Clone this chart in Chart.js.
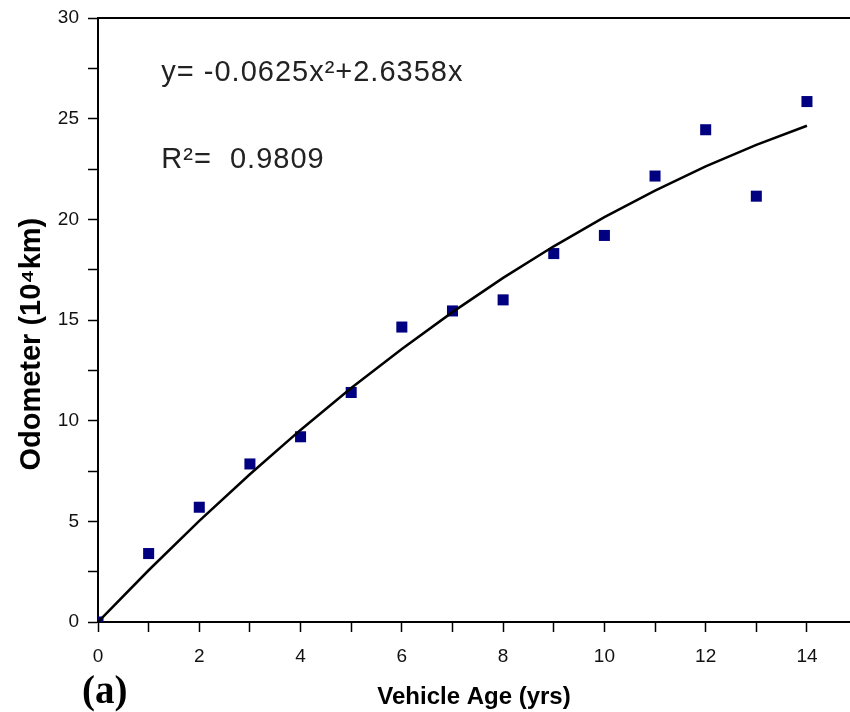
<!DOCTYPE html>
<html>
<head>
<meta charset="utf-8">
<script src="https://cdn.jsdelivr.net/npm/chart.js@4.4.1/dist/chart.umd.min.js"></script>
<style>
  html, body { margin: 0; padding: 0; background: #fff; }
  #wrap { width: 850px; height: 712px; position: relative; }
</style>
</head>
<body>
<div id="wrap"><canvas id="c" width="850" height="712"></canvas></div>
<script>
// ---- Data ----
const ages = [0, 1, 2, 3, 4, 5, 6, 7, 8, 9, 10, 11, 12, 13, 14];
const odometer = [0, 3.4, 5.7, 7.85, 9.2, 11.4, 14.65, 15.45, 16.0, 18.3, 19.2, 22.15, 24.45, 21.15, 25.85];
const fitValues = [0, 2.57, 5.02, 7.34, 9.54, 11.62, 13.56, 15.39, 17.09, 18.66, 20.11, 21.43, 22.63, 23.70, 24.65];
const xTicks = [0, 1, 2, 3, 4, 5, 6, 7, 8, 9, 10, 11, 12, 13, 14];
const equationText = 'y= -0.0625x\u00B2+2.6358x';
const r2Text = 'R\u00B2=  0.9809';
const panelLabel = '(a)';
const xTitle = 'Vehicle Age (yrs)';
const yTitle = 'Odometer (10\u2074km)';

const pointsData = ages.map((a, i) => ({ x: a, y: odometer[i] }));
const fitData = ages.map((a, i) => ({ x: a, y: fitValues[i] }));

const annotations = {
  id: 'annotations',
  afterDraw(chart) {
    const ctx = chart.ctx;
    const xs = chart.scales.x, ys = chart.scales.y;
    ctx.save();
    ctx.fillStyle = '#222';
    ctx.font = '29px "Liberation Sans", Arial, sans-serif';
    try { ctx.letterSpacing = '1px'; } catch (e) {}
    ctx.textBaseline = 'alphabetic';
    ctx.textAlign = 'left';
    ctx.fillText(equationText, xs.getPixelForValue(1.25), ys.getPixelForValue(26.85));
    ctx.fillText(r2Text, xs.getPixelForValue(1.25), ys.getPixelForValue(22.55));
    try { ctx.letterSpacing = '0px'; } catch (e) {}
    ctx.fillStyle = '#000';
    ctx.font = 'bold 39px "Liberation Serif", "Times New Roman", serif';
    ctx.fillText(panelLabel, 82, 703);
    ctx.restore();
  }
};

new Chart(document.getElementById('c'), {
  type: 'scatter',
  data: {
    datasets: [
      {
        label: 'fit',
        data: fitData,
        showLine: true,
        borderColor: '#000',
        borderWidth: 2.5,
        pointRadius: 0,
        fill: false,
        tension: 0
      },
      {
        label: 'odometer',
        data: pointsData,
        pointStyle: 'rect',
        pointRadius: 7.8,
        backgroundColor: '#000080',
        borderColor: '#000080',
        borderWidth: 0
      }
    ]
  },
  options: {
    responsive: false,
    animation: false,
    devicePixelRatio: 1,
    layout: { autoPadding: false, padding: { top: 18, right: 0, bottom: 0, left: 0 } },
    plugins: { legend: { display: false }, tooltip: { enabled: false } },
    scales: {
      x: {
        type: 'linear',
        position: 'bottom',
        min: 0,
        max: 14.85,
        afterBuildTicks(scale) { scale.ticks = xTicks.map(v => ({ value: v })); },
        afterFit(scale) { scale.height = 90; scale.paddingLeft = 0; scale.paddingRight = 0; },
        ticks: {
          autoSkip: false,
          maxRotation: 0,
          padding: 13,
          color: '#111',
          font: { family: '"Liberation Sans", Arial, sans-serif', size: 19 },
          callback: (v) => (v % 2 === 0 ? String(v) : '')
        },
        grid: { drawOnChartArea: false, drawTicks: true, tickLength: 10, color: '#000', tickWidth: 1.5 },
        border: { display: true, color: '#000', width: 2 },
        title: {
          display: true,
          text: xTitle,
          color: '#000',
          font: { family: '"Liberation Sans", Arial, sans-serif', size: 24, weight: 'bold' },
          padding: { top: 0, bottom: 0 }
        }
      },
      xTop: {
        type: 'linear',
        position: 'top',
        min: 0,
        max: 14.85,
        ticks: { display: false },
        grid: { display: false, drawTicks: false },
        border: { display: true, color: '#000', width: 2 }
      },
      y: {
        type: 'linear',
        position: 'left',
        min: 0,
        max: 30,
        afterFit(scale) { scale.width = 98; scale.paddingTop = 0; scale.paddingBottom = 0; },
        ticks: {
          stepSize: 2.5,
          autoSkip: false,
          padding: 9,
          color: '#111',
          font: { family: '"Liberation Sans", Arial, sans-serif', size: 19 },
          callback: (v) => (v % 5 === 0 ? String(v) : '')
        },
        grid: { drawOnChartArea: false, drawTicks: true, tickLength: 10, color: '#000', tickWidth: 1.5 },
        border: { display: true, color: '#000', width: 2 },
        title: {
          display: true,
          text: yTitle + '      ',
          color: '#000',
          font: { family: '"Liberation Sans", Arial, sans-serif', size: 29, weight: 'bold' },
          padding: { top: 15, bottom: 0 }
        }
      }
    }
  },
  plugins: [annotations]
});
</script>
</body>
</html>
